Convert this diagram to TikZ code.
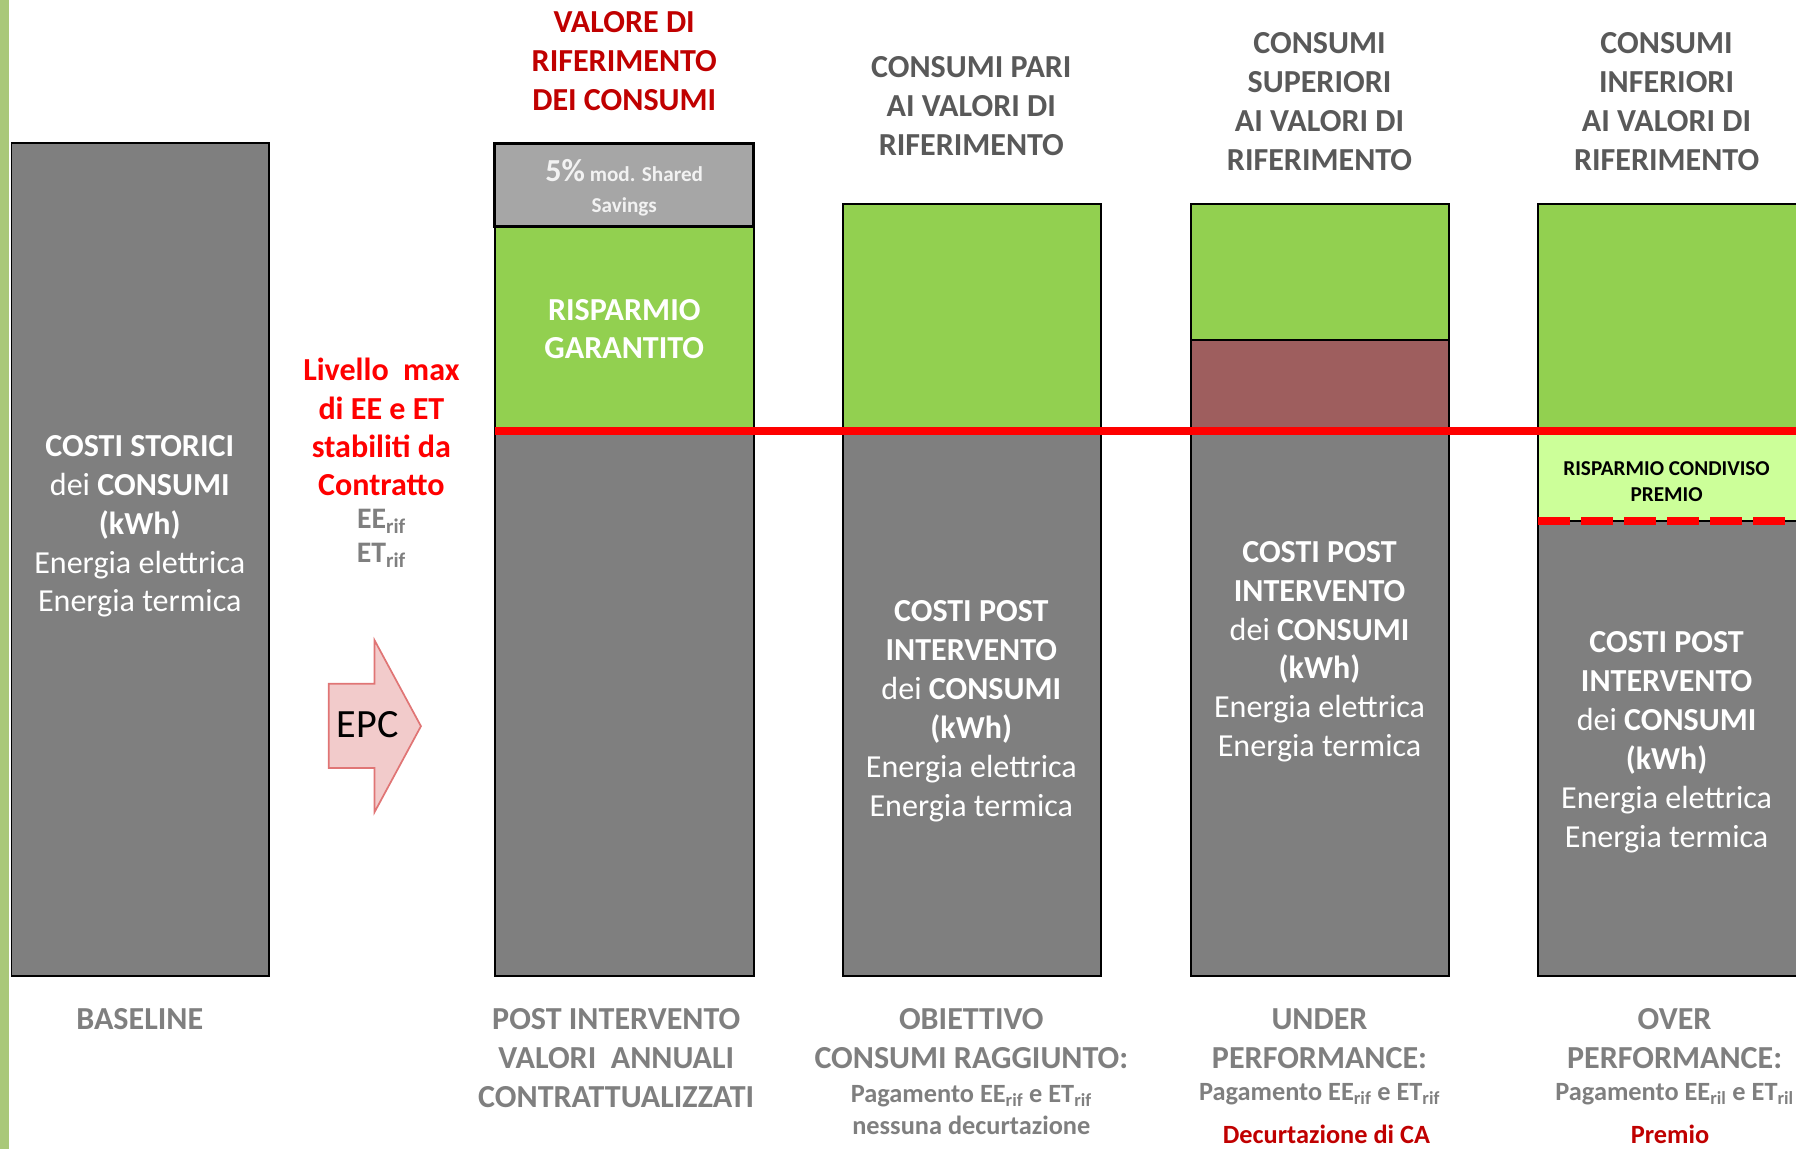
\documentclass[tikz,border=0pt]{standalone}
\usepackage{fontspec}
\setmainfont{Carlito}
\definecolor{barGray}{HTML}{7F7F7F}
\definecolor{topGray}{HTML}{A6A6A6}
\definecolor{saveGreen}{HTML}{92D050}
\definecolor{shareGreen}{HTML}{CCFF99}
\definecolor{lossBrown}{HTML}{9E5E5E}
\definecolor{refRed}{HTML}{C00000}
\definecolor{headGray}{HTML}{595959}
\definecolor{footGray}{HTML}{7F7F7F}
\definecolor{stripGreen}{HTML}{A9C879}
\definecolor{epcFill}{HTML}{F2CBCB}
\definecolor{epcLine}{HTML}{E07575}

\begin{document}
\begin{tikzpicture}[x=1pt,y=-1pt,
        bar/.style={draw=black,line width=1.5pt},
        txt/.style={align=center,inner sep=0pt},
        inbar/.style={txt,text=white,font=\fontsize{28}{34}\selectfont},
        head/.style={txt,text=headGray,font=\bfseries\fontsize{28}{34}\selectfont},
        foot/.style={txt,text=footGray,font=\bfseries\fontsize{28}{34}\selectfont},
        pay/.style={txt,text=footGray,font=\bfseries\fontsize{23}{28}\selectfont},
        levelline/.style={red,line width=7pt}]
        \clip (0,0) rectangle (1568,1003);
        \fill[stripGreen] (0,0) rectangle (8,1003);

        % baseline
        \filldraw[bar,fill=barGray] (10,125) rectangle (235,852);

        % 2 bar
        \filldraw[bar,fill=saveGreen] (432,198) rectangle (658,376);
        \filldraw[bar,fill=barGray] (432,376) rectangle (658,852);
        \filldraw[bar,line width=2.5pt,fill=topGray] (432,125) rectangle (658,198);

        % 3 bar
        \filldraw[bar,fill=saveGreen] (736,178) rectangle (961,376);
        \filldraw[bar,fill=barGray] (736,376) rectangle (961,852);

        % 4 bar
        \filldraw[bar,fill=saveGreen] (1040,178) rectangle (1265,297);
        \filldraw[bar,fill=lossBrown] (1040,297) rectangle (1265,376);
        \filldraw[bar,fill=barGray] (1040,376) rectangle (1265,852);

        % 5 bar
        \filldraw[bar,fill=saveGreen] (1343,178) rectangle (1575,376);
        \filldraw[bar,fill=shareGreen] (1343,376) rectangle (1575,455);
        \filldraw[bar,fill=barGray] (1343,455) rectangle (1575,852);
        \draw[red,line width=7pt,dash pattern=on 28pt off 9.5pt] (1343,455) -- (1575,455);

        \draw[levelline] (432,376) -- (1575,376);

        % EPC arrow
        \draw[draw=epcLine,fill=epcFill,line width=1.5pt,line join=miter]
            (287,597) -- (327,597) -- (327,559) -- (367.5,634) -- (327,709)
            -- (327,670.5) -- (287,670.5) -- cycle;
        \node[txt,font=\fontsize{35}{35}\selectfont] (epc) at (321,633) {EPC};

        % headers
        \node[head,text=refRed] (hrif) at (545,53.5) {VALORE DI\\RIFERIMENTO\\DEI CONSUMI};
        \node[head] (hpari) at (848,92.5) {CONSUMI PARI\\AI VALORI DI\\RIFERIMENTO};
        \node[head] (hsup) at (1152,88.5) {CONSUMI\\SUPERIORI\\AI VALORI DI\\RIFERIMENTO};
        \node[head] (hinf) at (1455,88.5) {CONSUMI\\INFERIORI\\AI VALORI DI\\RIFERIMENTO};

        % text in bars
        \node[inbar] (storici) at (122,459.5) {\textbf{COSTI STORICI}\\dei \textbf{CONSUMI}\\\textbf{(kWh)}\\Energia elettrica\\Energia termica};
        \node[txt,text=white!95!black,font=\bfseries\fontsize{18.5}{27}\selectfont] (shared) at (545,164)
            {{\fontsize{28}{27}\selectfont 5\%} mod. Shared\\Savings};
        \node[inbar,font=\bfseries\fontsize{28}{33}\selectfont] (garantito) at (545,287.5) {RISPARMIO\\GARANTITO};
        \node[txt,font=\bfseries\fontsize{18.5}{23}\selectfont] (condiviso) at (1455,420.5) {RISPARMIO CONDIVISO\\PREMIO};
        \foreach \n/\x/\y in {3/848/621, 4/1152/569, 5/1455/648}{
            \node[inbar] (post-\n) at (\x,\y) {\textbf{COSTI POST}\\\textbf{INTERVENTO}\\dei \textbf{CONSUMI}\\\textbf{(kWh)}\\Energia elettrica\\Energia termica};
        }

        % livello max
        \node[txt,text=red,font=\bfseries\fontsize{28}{33.5}\selectfont] (livello) at (333,373) {Livello~~max\\di EE e ET\\stabiliti da\\Contratto};
        \node[txt,text=footGray,font=\bfseries\fontsize{26}{29}\selectfont] (rif) at (333,470) {EE\textsubscript{rif}\\ET\textsubscript{rif}};

        % footers
        \node[foot] (fbase) at (122,890) {BASELINE};
        \node[foot] (fpost) at (538,923.5) {POST INTERVENTO\\VALORI~~ANNUALI\\CONTRATTUALIZZATI};
        \node[foot] (fobj) at (848,907) {OBIETTIVO\\CONSUMI RAGGIUNTO:};
        \node[pay] (pobj) at (848,969) {Pagamento EE\textsubscript{rif} e ET\textsubscript{rif}\\nessuna decurtazione};
        \node[foot] (funder) at (1152,907) {UNDER\\PERFORMANCE:};
        \node[pay] (punder) at (1152,955) {Pagamento EE\textsubscript{rif} e ET\textsubscript{rif}};
        \node[pay,text=refRed] (decurt) at (1158,990) {Decurtazione di CA};
        \node[foot] (fover) at (1462,907) {OVER\\PERFORMANCE:};
        \node[pay] (pover) at (1462,955) {Pagamento EE\textsubscript{ril} e ET\textsubscript{ril}};
        \node[pay,text=refRed] (premio) at (1458,990) {Premio};
    \end{tikzpicture}
\end{document}
